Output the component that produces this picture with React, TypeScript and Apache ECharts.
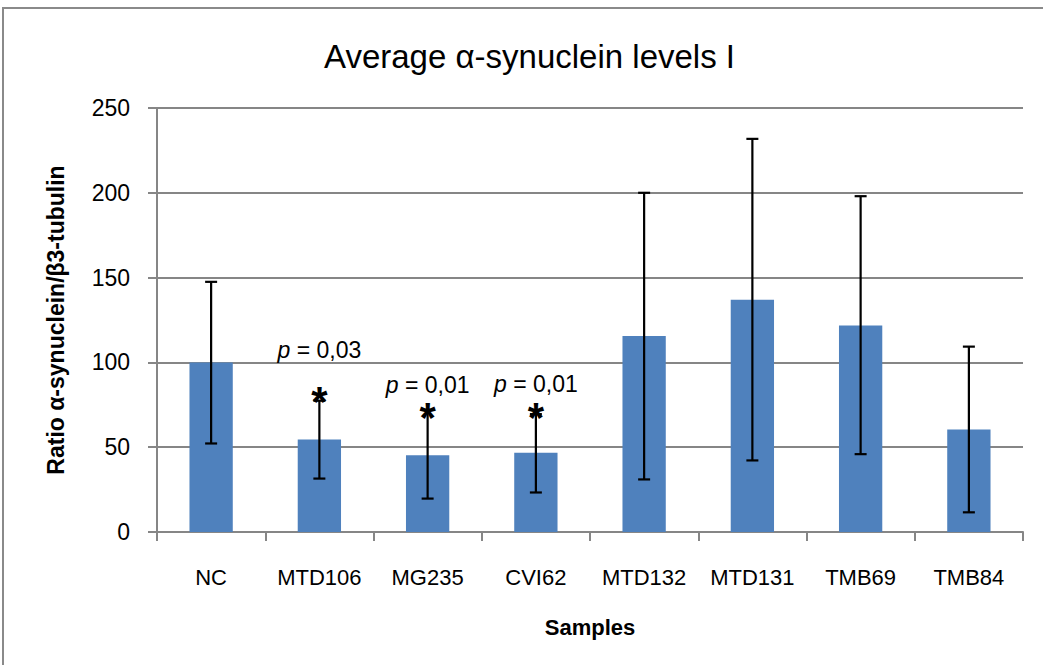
import React, { useEffect, useRef } from "react";
import * as echarts from "echarts";

const categories = ["NC", "MTD106", "MG235", "CVI62", "MTD132", "MTD131", "TMB69", "TMB84"];
const means = [100, 54.6, 45.2, 46.8, 115.5, 137, 121.7, 60.5];
const errLow = [52.2, 31.5, 19.7, 23.3, 31, 42.2, 45.9, 11.6];
const errHigh = [147.5, 77.4, 72, 69.5, 200, 231.8, 198, 109.3];

const pCategories = ["MTD106", "MG235", "CVI62"];
const pTexts = ["0,03", "0,01", "0,01"];
const pLabelY = [107.3, 86.8, 87.2];
const starY = [84, 74.5, 74.5];

const yTicks = { min: 0, max: 250, interval: 50 };

const FONT = "'Liberation Sans', Arial, sans-serif";

export default function App() {
  const ref = useRef<HTMLDivElement>(null);

  useEffect(() => {
    if (!ref.current) return;
    const chart = echarts.init(ref.current, null, { renderer: "svg" });

    const errData = categories.map((c, i) => [i, errLow[i], errHigh[i]]);

    chart.setOption({
      animation: false,
      backgroundColor: "#ffffff",
      textStyle: { fontFamily: FONT },
      title: {
        text: "Average α-synuclein levels I",
        left: 319,
        top: 35,
        textStyle: { fontFamily: FONT, fontSize: 33, fontWeight: "normal", color: "#000" },
      },
      graphic: [
        {
          type: "rect",
          shape: { x: 3, y: 8, width: 1200, height: 800 },
          style: { fill: "none", stroke: "#8a8a8a", lineWidth: 2 },
          silent: true,
        },
      ],
      grid: { left: 157, right: 20, top: 108, bottom: 133, containLabel: false },
      xAxis: {
        type: "category",
        data: categories,
        name: "Samples",
        nameLocation: "middle",
        nameGap: 84,
        nameTextStyle: { fontFamily: FONT, fontSize: 22, fontWeight: "bold", color: "#000" },
        axisLine: { show: true, lineStyle: { color: "#868686", width: 2 } },
        axisTick: { show: true, length: 9, lineStyle: { color: "#868686", width: 2 } },
        axisLabel: { interval: 0, margin: 34, fontFamily: FONT, fontSize: 22, color: "#000" },
        splitLine: { show: false },
      },
      yAxis: {
        type: "value",
        min: yTicks.min,
        max: yTicks.max,
        interval: yTicks.interval,
        name: "Ratio α-synuclein/β3-tubulin",
        nameLocation: "middle",
        nameGap: 90,
        nameRotate: 90,
        nameTextStyle: { fontFamily: FONT, fontSize: 23, fontWeight: "bold", color: "#000" },
        axisLine: { show: true, lineStyle: { color: "#868686", width: 2 } },
        axisTick: { show: true, length: 9, lineStyle: { color: "#868686", width: 2 } },
        axisLabel: { margin: 27, fontFamily: FONT, fontSize: 23, color: "#000" },
        splitLine: { show: true, lineStyle: { color: "#868686", width: 2 } },
      },
      series: [
        {
          type: "bar",
          data: means,
          barWidth: "40%",
          itemStyle: { color: "#4F81BD" },
          z: 2,
        },
        {
          type: "custom",
          data: errData,
          z: 5,
          renderItem: (params: any, api: any) => {
            const x = api.value(0);
            const lo = api.coord([x, api.value(1)]);
            const hi = api.coord([x, api.value(2)]);
            const half = 6;
            const style = { stroke: "#000", lineWidth: 2.2 };
            return {
              type: "group",
              children: [
                { type: "line", shape: { x1: lo[0], y1: lo[1], x2: hi[0], y2: hi[1] }, style },
                { type: "line", shape: { x1: lo[0] - half, y1: lo[1], x2: lo[0] + half, y2: lo[1] }, style },
                { type: "line", shape: { x1: hi[0] - half, y1: hi[1], x2: hi[0] + half, y2: hi[1] }, style },
              ],
            };
          },
        },
        {
          type: "scatter",
          symbolSize: 0,
          z: 6,
          itemStyle: { opacity: 1, color: "#000" },
          data: pCategories.map((c, i) => ({ value: [c, pLabelY[i]], name: pTexts[i] })),
          label: {
            show: true,
            position: "inside",
            formatter: (p: any) => "{i|p} = " + p.name,
            fontFamily: FONT,
            fontSize: 23,
            lineHeight: 24,
            color: "#000",
            opacity: 1,
            rich: {
              i: { fontStyle: "italic", fontFamily: FONT, fontSize: 23, lineHeight: 24, color: "#000" },
            },
          },
        },
        {
          type: "scatter",
          symbolSize: 0,
          z: 7,
          itemStyle: { opacity: 1, color: "#000" },
          data: pCategories.map((c, i) => [c, starY[i]]),
          label: {
            show: true,
            position: "inside",
            formatter: "*",
            fontFamily: FONT,
            fontSize: 42,
            lineHeight: 18,
            fontWeight: "bold",
            color: "#000",
            opacity: 1,
            offset: [0, 12],
          },
        },
      ],
    });

    return () => chart.dispose();
  }, []);

  return (
    <div
      ref={ref}
      style={{ position: "fixed", left: 0, top: 0, width: 1043, height: 665 }}
    />
  );
}
